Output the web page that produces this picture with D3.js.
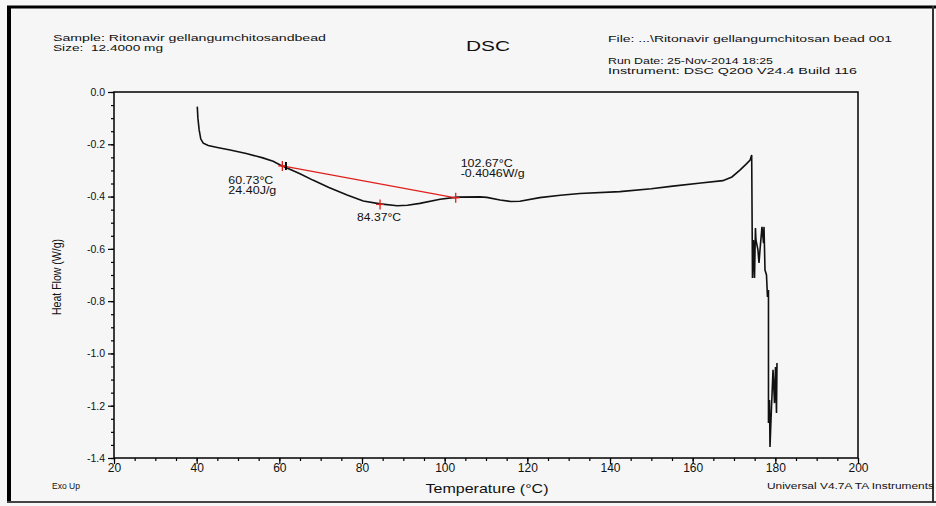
<!DOCTYPE html>
<html>
<head>
<meta charset="utf-8">
<script src="https://cdn.jsdelivr.net/npm/d3@7"></script>
<style>
  html, body { margin: 0; padding: 0; background: #f6f6f6; }
  svg { display: block; }
  text { font-family: "Liberation Sans", Arial, sans-serif; fill: #111; }
</style>
</head>
<body>
<svg id="chart" width="936" height="506"></svg>
<script>
// ---- data ----
const temperature = [40.15, 40.3, 40.6, 41.0, 41.6, 42.8, 45.0, 48.1, 52.0, 56.0, 58.5, 60.2, 62.0, 65.0, 68.1, 72.0, 76.4, 80.3, 84.4, 88.5, 91.0, 94.0, 98.9, 103.0, 108.5, 110.2, 113.4, 116.0, 118.2, 123.0, 128.0, 132.7, 142.4, 150.0, 155.2, 162.0, 167.3, 169.5, 171.5, 173.0, 173.9, 174.28,
  174.47, 174.71, 174.96, 175.19, 175.31, 175.79, 176.05, 176.29, 176.77, 177.14, 177.26, 177.50, 177.86, 178.10, 178.34, 178.34, 178.59, 178.71, 178.95, 179.44, 179.80, 180.04, 180.28, 180.40, 180.30];
const heatFlow = [-0.056, -0.10, -0.145, -0.180, -0.196, -0.205, -0.212, -0.222, -0.235, -0.252, -0.265, -0.279, -0.292, -0.313, -0.337, -0.365, -0.394, -0.417, -0.428, -0.435, -0.433, -0.426, -0.41, -0.402, -0.401, -0.403, -0.413, -0.419, -0.418, -0.404, -0.395, -0.388, -0.381, -0.37, -0.36, -0.348, -0.339, -0.325, -0.298, -0.275, -0.26, -0.241,
  -0.711, -0.566, -0.711, -0.520, -0.566, -0.604, -0.654, -0.604, -0.516, -0.578, -0.516, -0.681, -0.700, -0.784, -0.757, -1.266, -1.178, -1.358, -1.255, -1.063, -1.190, -1.052, -1.228, -1.037, -1.15];

const xTicks = [20, 40, 60, 80, 100, 120, 140, 160, 180, 200];
const yTicks = [0.0, -0.2, -0.4, -0.6, -0.8, -1.0, -1.2, -1.4];

// integration baseline (onset -> end)
const baselineT = [60.73, 102.67];
const baselineV = [-0.283, -0.4046];
// marker positions on curve
const markerT = [60.73, 84.37, 102.67];
const markerV = [-0.283, -0.430, -0.4046];

const headerLeft = ["Sample: Ritonavir gellangumchitosandbead", "Size:  12.4000 mg"];
const headerRight = ["File: ...\\Ritonavir gellangumchitosan bead 001", "Run Date: 25-Nov-2014 18:25", "Instrument: DSC Q200 V24.4 Build 116"];

// ---- drawing ----
const svg = d3.select("#chart");
const W = 936, H = 506;
const m = { left: 114, right: 858, top: 92, bottom: 458 };

const x = d3.scaleLinear().domain([20, 200]).range([m.left, m.right]);
const y = d3.scaleLinear().domain([0, -1.4]).range([m.top, m.bottom]);

// outer frame
svg.append("rect").attr("x", 0).attr("y", 0).attr("width", W).attr("height", H).attr("fill", "#f6f6f6");
svg.append("line").attr("x1", 9).attr("x2", 9).attr("y1", 6).attr("y2", 503).attr("stroke", "#000").attr("stroke-width", 4);
svg.append("line").attr("x1", 7).attr("x2", 936).attr("y1", 7).attr("y2", 7).attr("stroke", "#000").attr("stroke-width", 3);
svg.append("line").attr("x1", 7).attr("x2", 936).attr("y1", 502).attr("y2", 502).attr("stroke", "#444").attr("stroke-width", 2);
svg.append("line").attr("x1", 933).attr("x2", 933).attr("y1", 6).attr("y2", 503).attr("stroke", "#333").attr("stroke-width", 2);

// header text
const hdr = (xp, yp, len, t) => svg.append("text").attr("x", xp).attr("y", yp).attr("font-size", 9.5)
  .attr("textLength", len).attr("lengthAdjust", "spacingAndGlyphs").text(t);
hdr(53, 41, 273, headerLeft[0]);
hdr(53, 50.5, 110, headerLeft[1].replace("  ", "\u00a0\u00a0"));
svg.append("text").attr("x", 488).attr("y", 51).attr("font-size", 14.5).attr("text-anchor", "middle")
  .attr("textLength", 44).attr("lengthAdjust", "spacingAndGlyphs").text("DSC");
const rightY = [42, 64, 73.5], rightLen = [284, 165, 249];
headerRight.forEach((t, i) => hdr(608, rightY[i], rightLen[i], t));

// plot box
svg.append("rect").attr("x", m.left).attr("y", m.top).attr("width", m.right - m.left).attr("height", m.bottom - m.top)
  .attr("fill", "none").attr("stroke", "#000").attr("stroke-width", 1.5);

// x axis
const xMinor = d3.range(20, 200.1, 5);
const xAxisG = svg.append("g").attr("transform", `translate(0,${m.bottom})`);
xAxisG.call(d3.axisBottom(x).tickValues(xMinor).tickSize(3).tickFormat(""));
xAxisG.append("g").call(d3.axisBottom(x).tickValues(xTicks).tickSize(6).tickFormat(d => d));
xAxisG.selectAll(".domain").remove();
xAxisG.selectAll("line").attr("stroke", "#000").attr("stroke-width", 1.2);
xAxisG.selectAll("text").attr("font-size", 12).attr("fill", "#111").attr("y", 4).attr("dy", "0.85em")
  .style("font-family", "'Liberation Sans', Arial, sans-serif");

// y axis
const yMinor = d3.range(0, -1.4001, -0.05);
const yAxisG = svg.append("g").attr("transform", `translate(${m.left},0)`);
yAxisG.call(d3.axisLeft(y).tickValues(yMinor).tickSize(3).tickFormat(""));
yAxisG.append("g").call(d3.axisLeft(y).tickValues(yTicks).tickSize(6).tickFormat(d => d.toFixed(1)));
yAxisG.selectAll(".domain").remove();
yAxisG.selectAll("line").attr("stroke", "#000").attr("stroke-width", 1.2);
yAxisG.selectAll("text").attr("font-size", 10.5).attr("fill", "#111").attr("x", -9)
  .style("font-family", "'Liberation Sans', Arial, sans-serif");

// axis titles
svg.append("text").attr("x", 487).attr("y", 493).attr("font-size", 13).attr("text-anchor", "middle")
  .attr("textLength", 123).attr("lengthAdjust", "spacingAndGlyphs").text("Temperature (°C)");
svg.append("text").attr("transform", `translate(61,277) rotate(-90)`).attr("font-size", 12.5).attr("text-anchor", "middle")
  .attr("textLength", 76).attr("lengthAdjust", "spacingAndGlyphs").text("Heat Flow (W/g)");
svg.append("text").attr("x", 52).attr("y", 489).attr("font-size", 8.5)
  .attr("textLength", 28).attr("lengthAdjust", "spacingAndGlyphs").text("Exo Up");
svg.append("text").attr("x", 767).attr("y", 489).attr("font-size", 8.5)
  .attr("textLength", 167).attr("lengthAdjust", "spacingAndGlyphs").text("Universal V4.7A TA Instruments");

// curve
const pts = temperature.map((t, i) => [t, heatFlow[i]]);
const line = d3.line().x(d => x(d[0])).y(d => y(d[1]));
svg.append("path").datum(pts).attr("d", line).attr("fill", "none")
  .attr("stroke", "#111").attr("stroke-width", 1.6).attr("stroke-linejoin", "miter");

// red baseline
const bl = baselineT.map((t, i) => [t, baselineV[i]]);
svg.append("path").datum(bl).attr("d", line).attr("fill", "none").attr("stroke", "#e0201c").attr("stroke-width", 1.3);

// markers
markerT.forEach((t, i) => {
  const cx = x(t), cy = y(markerV[i]);
  svg.append("line").attr("x1", cx).attr("x2", cx).attr("y1", cy - 5).attr("y2", cy + 5).attr("stroke", "#e0201c").attr("stroke-width", 1.3);
  svg.append("line").attr("x1", cx - 4).attr("x2", cx + 4).attr("y1", cy).attr("y2", cy).attr("stroke", "#e0201c").attr("stroke-width", 1.3);
});
// black onset tick
svg.append("line").attr("x1", x(61.6)).attr("x2", x(61.6)).attr("y1", y(-0.283) - 4).attr("y2", y(-0.283) + 4)
  .attr("stroke", "#000").attr("stroke-width", 2);

// annotations
const ann = [
  { t: 60.73, v: -0.283, dx: -54, dy: 18, len: [45, 48], lines: ["60.73°C", "24.40J/g"] },
  { t: 84.37, v: -0.430, dx: -23, dy: 17, len: [44], lines: ["84.37°C"] },
  { t: 102.67, v: -0.4046, dx: 5, dy: -31, len: [52, 64], lines: ["102.67°C", "-0.4046W/g"] }
];
ann.forEach(a => {
  a.lines.forEach((s, j) => {
    svg.append("text").attr("x", x(a.t) + a.dx).attr("y", y(a.v) + a.dy + j * 10).attr("font-size", 10)
      .attr("textLength", a.len[j]).attr("lengthAdjust", "spacingAndGlyphs").text(s);
  });
});
</script>
</body>
</html>
